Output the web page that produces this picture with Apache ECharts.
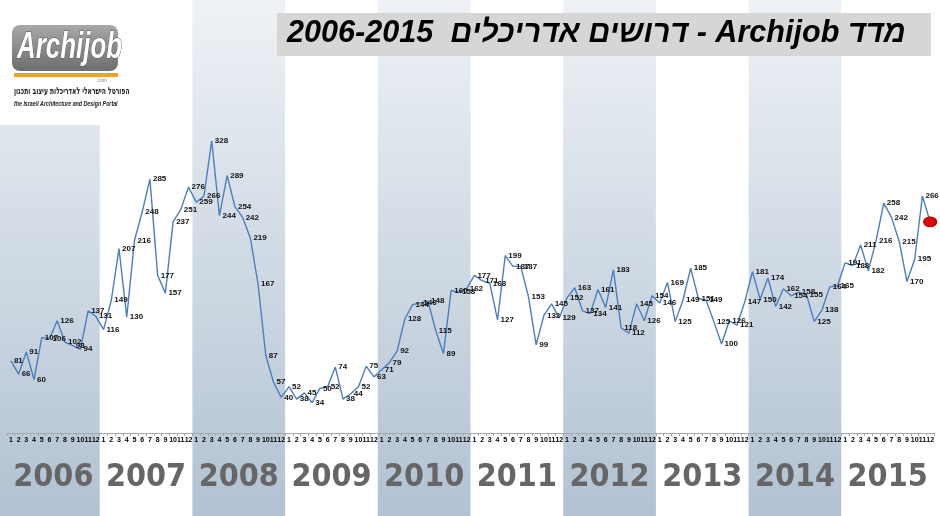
<!DOCTYPE html>
<html>
<head>
<meta charset="utf-8">
<script src="https://cdn.jsdelivr.net/npm/echarts@6/dist/echarts.min.js"></script>
<style>
html,body{margin:0;padding:0;background:#fff;}
#chart{width:940px;height:516px;}
</style>
</head>
<body>
<div id="chart"></div>
<script>
var years = ['2006','2007','2008','2009','2010','2011','2012','2013','2014','2015'];
var monthLabels = ['1','2','3','4','5','6','7','8','9','10','11','12'];
var v2006 = [81, 66, 91, 60, 107, 106, 126, 102, 98, 94, 137, 131];
var v2007 = [116, 149, 207, 130, 216, 248, 285, 177, 157, 237, 251, 276];
var v2008 = [259, 266, 328, 244, 289, 254, 242, 219, 167, 87, 57, 40];
var v2009 = [52, 38, 45, 34, 50, 52, 74, 38, 44, 52, 75, 63];
var v2010 = [71, 79, 92, 128, 144, 146, 148, 115, 89, 160, 158, 162];
var v2011 = [177, 171, 168, 127, 199, 187, 187, 153, 99, 132, 145, 129];
var v2012 = [152, 163, 137, 134, 161, 141, 183, 118, 112, 145, 126, 154];
var v2013 = [146, 169, 125, 149, 185, 151, 149, 125, 100, 126, 121, 147];
var v2014 = [181, 150, 174, 142, 162, 154, 158, 155, 125, 138, 164, 165];
var v2015 = [191, 188, 211, 182, 216, 258, 242, 215, 170, 195, 266, 237];
var titleText = '\u202Bמדד Archijob - דרושים אדריכלים  2006-2015\u202C';

var allValues = [].concat(v2006, v2007, v2008, v2009, v2010, v2011, v2012, v2013, v2014, v2015);
var categories = [];
years.forEach(function (y) { monthLabels.forEach(function (m) { categories.push(m); }); });

var seriesData = allValues.map(function (v, i) {
  if (i === allValues.length - 1) {
    return { value: v, symbol: 'circle', symbolSize: [13, 10],
      itemStyle: { color: '#e00000', borderColor: '#b00000', borderWidth: 1, opacity: 1 } };
  }
  return v;
});

function bandGradient() {
  return new echarts.graphic.LinearGradient(0, 0, 0, 1, [
    { offset: 0, color: '#eef2f6' }, { offset: 1, color: '#b2c2d2' }]);
}

var chart = echarts.init(document.getElementById('chart'), null, { renderer: 'canvas' });
chart.setOption({
  animation: false,
  backgroundColor: '#ffffff',
  grid: [
    { left: 7, right: 6, top: 0, bottom: 83, containLabel: false, outerBoundsMode: 'none' },
    { left: 7, right: 6, top: 0, bottom: 0, containLabel: false, outerBoundsMode: 'none' }
  ],
  xAxis: [{
    type: 'category',
    gridIndex: 0,
    data: categories,
    boundaryGap: true,
    position: 'bottom',
    axisLine: { onZero: false, lineStyle: { color: '#a8a8a8', width: 1 } },
    axisTick: { show: true, interval: 0, length: 3, lineStyle: { color: '#a8a8a8' } },
    axisLabel: { interval: 0, fontSize: 7, fontWeight: 'bold', color: '#000', margin: 4, fontFamily: 'Liberation Sans' },
    splitLine: { show: false }
  }, {
    type: 'category',
    gridIndex: 1,
    data: years,
    position: 'bottom',
    boundaryGap: true,
    axisLine: { show: false, onZero: false },
    axisTick: { show: false },
    axisLabel: { inside: true, interval: 0, margin: 22, fontSize: 32, fontWeight: 'bold', color: '#666666',
      fontFamily: '"DejaVu Sans Condensed", "Liberation Sans Narrow", sans-serif' },
    splitArea: { show: true, interval: 0, areaStyle: { color: [bandGradient(), 'rgba(255,255,255,0)'] } }
  }],
  yAxis: [
    { type: 'value', gridIndex: 0, min: 0, max: 486, show: false, splitLine: { show: false } },
    { type: 'value', gridIndex: 1, min: 0, max: 1, show: false, splitLine: { show: false } }
  ],
  series: [{
    type: 'line',
    xAxisIndex: 0,
    yAxisIndex: 0,
    data: seriesData,
    symbol: 'circle',
    symbolSize: 0.1,
    showSymbol: true,
    itemStyle: { color: '#4f81bd' },
    lineStyle: { color: '#4a7ebf', width: 1.4 },
    label: { show: true, position: 'right', distance: 3, fontSize: 8, fontWeight: 'bold',
      color: '#111', fontFamily: 'Liberation Sans' },
    z: 3
  }],
  graphic: [
    { type: 'rect', left: 0, top: 0, shape: { width: 7, height: 516 }, style: { fill: bandGradient() }, z: 0 },
    { type: 'rect', left: 0, top: 0, shape: { width: 128, height: 125 }, style: { fill: '#ffffff' }, z: 10 },
    { type: 'rect', left: 12, top: 25, shape: { width: 106, height: 46, r: 8 },
      style: { fill: new echarts.graphic.LinearGradient(0, 0, 0, 1, [
        { offset: 0, color: '#a8a8a8' }, { offset: 1, color: '#6e6e6e' }]) }, z: 11 },
    { type: 'text', x: 17, y: 30, scaleX: 0.72, style: { text: 'Archijob', fill: '#ffffff', stroke: '#555', lineWidth: 1,
      font: 'italic bold 36px "Liberation Sans"', verticalAlign: 'top', align: 'left' }, z: 12 },
    { type: 'rect', left: 14, top: 73, shape: { width: 104, height: 4 }, style: { fill: '#f4a020' }, z: 11 },
    { type: 'text', x: 96, y: 78, style: { text: '.com', fill: '#888', font: '5px "Liberation Sans"', verticalAlign: 'top' }, z: 12 },
    { type: 'text', x: 14, y: 86, scaleX: 0.6, style: { text: 'הפורטל הישראלי לאדריכלות עיצוב ותכנון', fill: '#222',
      font: 'bold 10px "DejaVu Sans"', verticalAlign: 'top', align: 'left' }, z: 12 },
    { type: 'text', x: 14, y: 100, scaleX: 0.66, style: { text: 'the Israeli Architecture and Design Portal', fill: '#222',
      font: 'italic bold 8px "Liberation Sans"', verticalAlign: 'top', align: 'left' }, z: 12 },
    { type: 'rect', left: 277, top: 13, shape: { width: 654, height: 43 }, style: { fill: '#d6d6d6' }, z: 10 },
    { type: 'text', x: 287, y: 18, style: { text: titleText, fill: '#000', font: 'italic bold 30.6px "Liberation Sans"',
      verticalAlign: 'top', align: 'left' }, z: 11 }
  ]
});
</script>
</body>
</html>
